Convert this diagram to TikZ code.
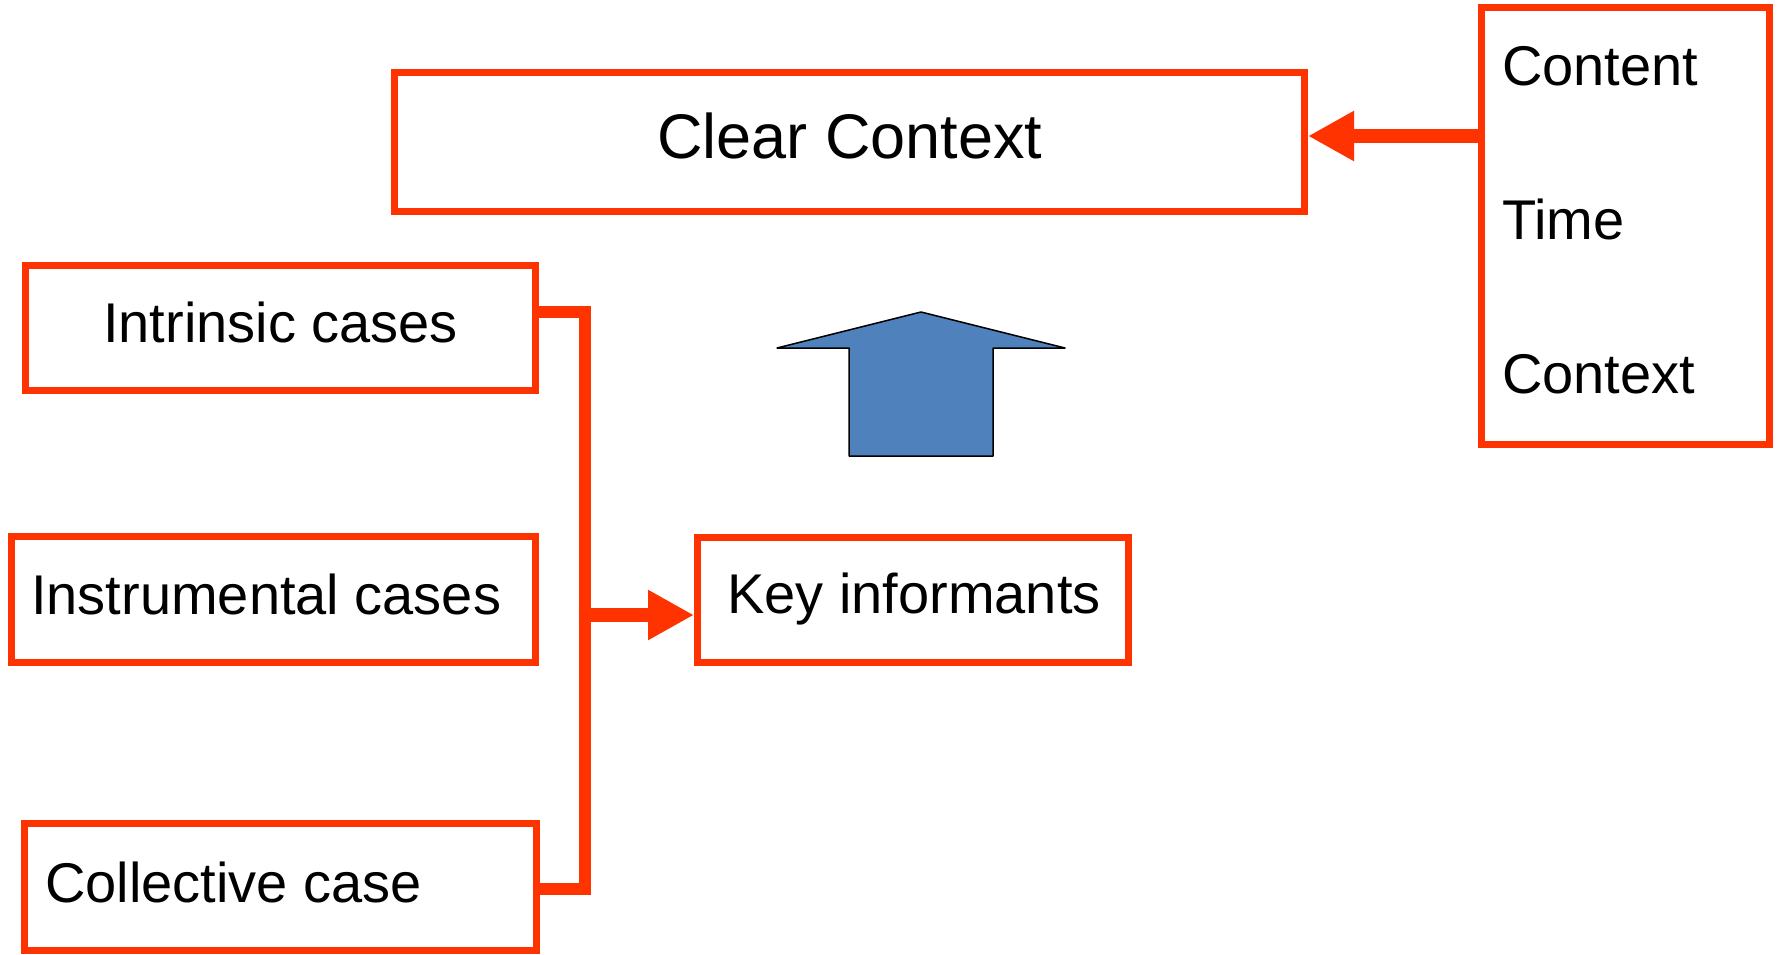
\documentclass[tikz,border=0pt]{standalone}
\usepackage{fontspec}
\setmainfont{Liberation Sans}
\usetikzlibrary{arrows.meta}
\definecolor{boxred}{RGB}{255,51,0}
\definecolor{arrowblue}{RGB}{79,129,189}
\tikzset{
  box/.style={draw=boxred, line width=7pt, inner sep=0pt, rectangle},
  txt/.style={inner sep=0pt, anchor=base west, font=\fontsize{56}{60}\selectfont},
  bigtxt/.style={inner sep=0pt, anchor=base west, font=\fontsize{63}{68}\selectfont},
  conn/.style={draw=boxred, line width=14pt, -{Triangle[length=46pt,width=47pt]}},
  brk/.style={draw=boxred, line width=12pt, line join=miter},
}
\begin{document}
\begin{tikzpicture}[x=1pt,y=-1pt]
\useasboundingbox (0,0) rectangle (1777,954);
% boxes
\node[box, minimum width=910pt, minimum height=139pt] (clear) at (849.5,142) {};
\node[box, minimum width=288pt, minimum height=437pt] (ctt) at (1625.5,226) {};
\node[box, minimum width=510pt, minimum height=125pt] (intr) at (280.5,328) {};
\node[box, minimum width=524pt, minimum height=126pt] (instr) at (273.5,599.5) {};
\node[box, minimum width=512pt, minimum height=127pt] (coll) at (280.5,887) {};
\node[box, minimum width=431pt, minimum height=125pt] (key) at (913,600) {};
% texts
\node[bigtxt] (clearT) at (657,158) {Clear Context};
\node[txt] (contentT) at (1502,85) {Content};
\node[txt] (timeT) at (1502,239) {Time};
\node[txt] (contextT) at (1502,393) {Context};
\node[txt] (intrT) at (103,342) {Intrinsic cases};
\node[txt] (instrT) at (31,614) {Instrumental cases};
\node[txt] (collT) at (45,902) {Collective case};
\node[txt] (keyT) at (727,613) {Key informants};
% connectors
\coordinate (ay) at (0,136);
\draw[conn] (ctt.west |- ay) -- (clear.east |- ay);
\coordinate (bt) at (585,312);
\coordinate (bb) at (585,889);
\draw[brk] (intr.east |- bt) -- (bt) -- (bb) -- (coll.east |- bb);
\coordinate (am) at (585,615);
\draw[conn] (am) -- (key.west |- am);
% blue up arrow
\draw[fill=arrowblue, draw=black, line width=1.5pt, line join=round]
  (921,312) -- (1065,348) -- (993,348) -- (993,456) -- (849,456) -- (849,348) -- (777,348) -- cycle;
\end{tikzpicture}
\end{document}
